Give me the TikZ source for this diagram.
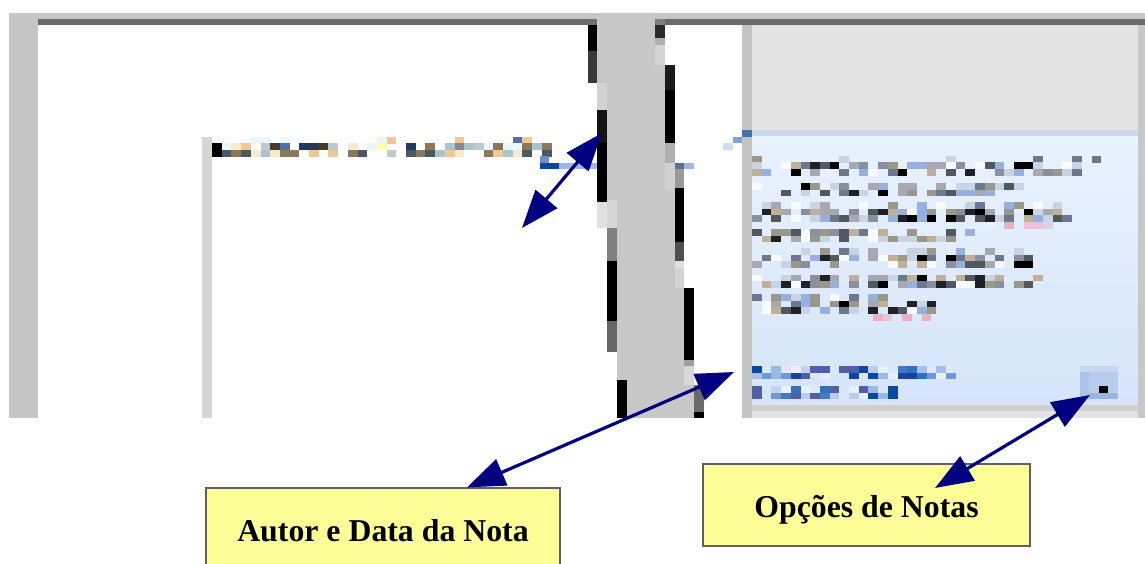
\documentclass[tikz,border=0pt]{standalone}
\usepackage{fontspec}
\setmainfont{Liberation Serif}
\usetikzlibrary{arrows.meta}

% window greys
\definecolor{frameg}{HTML}{C6C6C6}
\definecolor{barg}{HTML}{6A6A6A}
\definecolor{colg}{HTML}{C8C8C8}
\definecolor{pageedge}{HTML}{D6D6D6}
\definecolor{paneltop}{HTML}{E4E4E4}
\definecolor{panelline}{HTML}{CBD8F0}
\definecolor{notetop}{HTML}{E8F1FE}
\definecolor{notebot}{HTML}{D6E5FA}
\definecolor{callout}{HTML}{FFFF99}
\definecolor{calloutline}{HTML}{606060}
\definecolor{pointer}{HTML}{000080}

% palette a: document heading pixels
\definecolor{pa0}{HTML}{FFFFFF}\definecolor{pa1}{HTML}{F4F4F0}
\definecolor{pa2}{HTML}{FCFCE8}\definecolor{pa3}{HTML}{000000}
\definecolor{pa4}{HTML}{888890}\definecolor{pa5}{HTML}{A8C4CC}
\definecolor{pa6}{HTML}{FFFFAA}\definecolor{pa7}{HTML}{4A3A28}
\definecolor{pa8}{HTML}{8A7858}\definecolor{pa9}{HTML}{243860}
\definecolor{pa10}{HTML}{4A5860}\definecolor{pa11}{HTML}{C0C8CC}
\definecolor{pa12}{HTML}{F0C898}\definecolor{pa13}{HTML}{F4ECD0}
\definecolor{pa14}{HTML}{E8F8FC}\definecolor{pa15}{HTML}{5070A0}

% palette b: comment body pixels
\definecolor{pb0}{HTML}{E6EFFD}\definecolor{pb1}{HTML}{F2F8FF}
\definecolor{pb2}{HTML}{E0ECFA}\definecolor{pb3}{HTML}{D0DCEC}
\definecolor{pb4}{HTML}{A8B4C4}\definecolor{pb5}{HTML}{8890A0}
\definecolor{pb6}{HTML}{505860}\definecolor{pb7}{HTML}{1E2228}
\definecolor{pb8}{HTML}{000000}\definecolor{pb9}{HTML}{C0B098}
\definecolor{pb10}{HTML}{A8A8B0}\definecolor{pb11}{HTML}{98B0E0}
\definecolor{pb12}{HTML}{6A7890}\definecolor{pb13}{HTML}{F8FCFF}
\definecolor{pb14}{HTML}{C8D4E4}\definecolor{pb15}{HTML}{9A9888}

% palette c: author / date link pixels
\definecolor{pc0}{HTML}{DCE8FC}\definecolor{pc1}{HTML}{6890D0}
\definecolor{pc2}{HTML}{2858B0}\definecolor{pc3}{HTML}{0848A0}
\definecolor{pc4}{HTML}{A8C0E8}\definecolor{pc5}{HTML}{E8F0FF}
\definecolor{pc6}{HTML}{3070C0}\definecolor{pc7}{HTML}{5060A8}
\definecolor{pc8}{HTML}{C0D4F0}\definecolor{pc9}{HTML}{E8F0FF}
\definecolor{pc10}{HTML}{1048A0}\definecolor{pc11}{HTML}{7098D8}
\definecolor{pc12}{HTML}{DCE8FC}\definecolor{pc13}{HTML}{4878C0}
\definecolor{pc14}{HTML}{B8CCEC}\definecolor{pc15}{HTML}{98B8E8}

% palette p: pale pink underline pixels
\definecolor{pp0}{HTML}{E4EEFC}\definecolor{pp1}{HTML}{E8B0C0}
\definecolor{pp2}{HTML}{E0D0E4}\definecolor{pp3}{HTML}{E8F4FC}
\definecolor{pp4}{HTML}{E8B0C0}\definecolor{pp5}{HTML}{E0D0E4}
\definecolor{pp6}{HTML}{E8B0C0}\definecolor{pp7}{HTML}{E8C4D4}
\definecolor{pp8}{HTML}{E0D0E4}\definecolor{pp9}{HTML}{E8B0C0}
\definecolor{pp10}{HTML}{E8F4FC}\definecolor{pp11}{HTML}{E8C4D4}
\definecolor{pp12}{HTML}{E8B0C0}\definecolor{pp13}{HTML}{E0D0E4}
\definecolor{pp14}{HTML}{E8B0C0}\definecolor{pp15}{HTML}{E8C4D4}

% a run of low-resolution text pixels:
% #1 x0, #2 x1, #3 y0, #4 pixel rows, #5 palette, #6 blank threshold
\newcommand\mosaic[6]{%
  \pgfmathtruncatemacro\mcols{(#2-#1)/9.7}%
  \foreach \r in {1,...,#4}{%
    \foreach \k in {0,...,\mcols}{%
      \pgfmathrandominteger{\mc}{0}{15}%
      \ifnum\mc<#6\relax\else
        \edef\mcol{#5\mc}%
        \fill[fill=\mcol] ({#1+9.7*\k},{#3+6.55*(\r-1)}) rectangle ++(9.75,6.6);%
      \fi
    }%
  }%
}

\tikzset{
  hx/.style={/utils/exec={\definecolor{hxtmp}{HTML}{#1}}, fill=hxtmp},
  calloutbox/.style={draw=calloutline, line width=1.2pt, fill=callout,
    minimum height=82pt, inner sep=0pt, text height=24pt, text depth=0pt,
    font=\fontsize{31.8}{38}\selectfont\bfseries},
  pointerline/.style={draw=pointer, line width=3.2pt,
    {Triangle[length=38pt,width=28pt]}-{Triangle[length=38pt,width=28pt]}}
}

\begin{document}
\begin{tikzpicture}[x=1pt,y=-1pt]
\useasboundingbox (0,0) rectangle (1145,564);
\clip (0,0) rectangle (1145,564);
\fill[white] (0,0) rectangle (1145,564);

% window frame
\fill[frameg] (9,13) rectangle (1145,19);
\fill[frameg] (9,13) rectangle (38,418);
\fill[barg] (38,19) rectangle (588,25);
\fill[barg] (665,19) rectangle (1145,25);
\fill[hx=707070] (588,19) rectangle (597,25);

% page edge and heading line
\fill[pageedge] (202,137) rectangle (212,418);
\pgfmathsetseed{11}
\mosaic{212}{545}{137}{1}{pa}{12}
\mosaic{212}{545}{143.5}{2}{pa}{4}
\fill[black] (212,143.5) rectangle (221.7,156.6);

% slanted gutter between the page and the comment pane
\fill[colg] (597,13) -- (655,13) -- (655,65) -- (665,65) -- (665,163)
  -- (675,163) -- (675,288) -- (684,288) -- (684,366) -- (694,366)
  -- (694,418) -- (617,418) -- (617,228) -- (607,228) -- (607,83)
  -- (597,83) -- cycle;
% its left edge
\fill[black] (588,25) rectangle (597,51);
\fill[hx=3A3A3A] (588,51) rectangle (597,83);
\fill[hx=D3D3D3] (597,83) rectangle (607,110);
\fill[hx=141414] (597,110) rectangle (607,143);
\fill[black] (597,143) rectangle (607,202);
\fill[hx=E0E0E0] (597,202) rectangle (607,228);
\fill[hx=D6D6D6] (607,200) rectangle (617,228);
\fill[hx=808080] (607,228) rectangle (617,261);
\fill[black] (607,261) rectangle (617,321);
\fill[hx=666666] (607,321) rectangle (617,352);
\fill[black] (617,380) rectangle (627,418);
% its right edge
\fill[hx=808080] (655,19) rectangle (665,25);
\fill[hx=2B2B2B] (655,25) rectangle (665,38);
\fill[hx=B0B0B0] (655,38) rectangle (665,45);
\fill[hx=D4D4D4] (655,45) rectangle (665,65);
\fill[hx=1B1B1B] (665,65) rectangle (675,90);
\fill[black] (665,90) rectangle (675,143);
\fill[hx=B0B0B0] (665,143) rectangle (675,163);
\fill[hx=D0D0D0] (665,163) rectangle (675,190);
\fill[hx=9A9A9A] (675,163) rectangle (684,188);
\fill[black] (675,188) rectangle (684,242);
\fill[hx=505050] (675,242) rectangle (684,261);
\fill[hx=E0E0E0] (675,261) rectangle (684,268);
\fill[hx=D4D4D4] (675,268) rectangle (684,288);
\fill[black] (684,288) rectangle (694,360);
\fill[hx=A0A0A0] (684,360) rectangle (694,366);
\fill[hx=D8D8D8] (684,366) rectangle (694,385);
\fill[hx=6A6A6A] (694,385) rectangle (704,412);
\fill[black] (694,412) rectangle (704,418);

% anchor marks of the comment
\fill[hx=6A90C8] (540,156) rectangle (549,163);
\fill[hx=0848A0] (540,163) rectangle (559,169);
\fill[hx=A0B8E0] (559,163) rectangle (597,169);
\fill[hx=607090] (675,163) rectangle (684,169);
\fill[hx=A0B8E0] (684,163) rectangle (694,169);
\fill[hx=D0DCEF] (723,143) rectangle (733,150);
\fill[hx=7AA0D8] (733,137) rectangle (743,143);

% comment pane
\fill[hx=C4C4C4] (742,25) rectangle (752,418);
\fill[paneltop] (752,25) rectangle (1138,130);
\fill[panelline] (752,130) rectangle (1138,137);
\fill[hx=4A70B0] (742,130) rectangle (752,137);
\shade[top color=notetop, bottom color=notebot] (752,137) rectangle (1138,405);
\fill[hx=CFCFCF] (752,405) rectangle (1138,411);
\fill[paneltop] (752,411) rectangle (1138,418);
\fill[hx=C8C8C8] (1138,25) rectangle (1145,418);

% comment text
\mosaic{752}{1098}{156}{1}{pb}{11}
\mosaic{752}{1098}{162.5}{2}{pb}{5}
\mosaic{752}{1032}{183}{2}{pb}{5}
\mosaic{752}{1065}{202}{1}{pb}{10}
\mosaic{752}{1065}{208.5}{2}{pb}{5}
\mosaic{985}{1052}{222}{1}{pp}{4}
\mosaic{752}{974}{229}{2}{pb}{5}
\mosaic{752}{1032}{248}{1}{pb}{10}
\mosaic{752}{1032}{254.5}{2}{pb}{5}
\mosaic{752}{1041}{274.5}{2}{pb}{5}
\mosaic{752}{935}{294}{1}{pb}{10}
\mosaic{752}{935}{300.5}{2}{pb}{5}
\mosaic{873}{935}{314}{1}{pp}{4}
% author and date
\mosaic{752}{954}{366}{2}{pc}{3}
\mosaic{752}{888}{386}{2}{pc}{3}

% options button
\fill[hx=B8CCEC] (1080,366) rectangle (1118,399);
\fill[hx=C8D8F4] (1080,366) rectangle (1118,372);
\fill[hx=A8C4E8] (1080,372) rectangle (1089,399);
\fill[hx=98B4E0] (1089,393) rectangle (1118,399);
\fill[black] (1099,386) rectangle (1108,393);

% callouts
\node[calloutbox, minimum width=354pt] (box1) at (383,529) {Autor e Data da Nota};
\node[calloutbox, minimum width=327pt] (box2) at (866.5,505) {Opções de Notas};

% pointers
\coordinate (headline) at (602,133);
\coordinate (pagemark) at (522,228);
\coordinate (gutter) at (734,372);
\coordinate (box1top) at ([xshift=84pt]box1.north);
\coordinate (button) at (1090,395);
\coordinate (box2in) at (935,488);
\draw[pointerline] (pagemark) -- (headline);
\draw[pointerline] (box1top) -- (gutter);
\draw[pointerline] (box2in) -- (button);
\end{tikzpicture}
\end{document}
